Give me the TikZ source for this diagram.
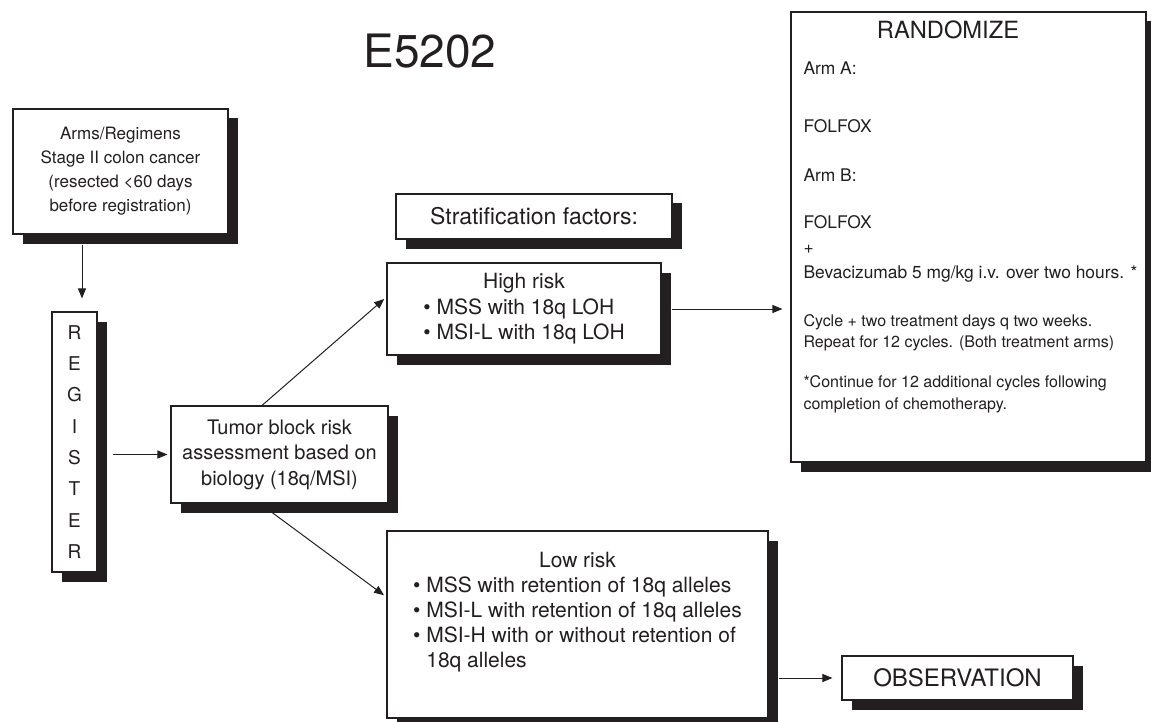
\documentclass[tikz,border=0pt]{standalone}
\usepackage{fontspec}
\setmainfont{TeX Gyre Heros}
\usetikzlibrary{arrows.meta,calc,shadows}
\definecolor{ink}{HTML}{231F20}
\tikzset{
  box/.style={draw=ink,fill=white,line width=1.1pt,inner sep=0pt,align=center,text=ink,
    drop shadow={shadow xshift=9.5pt,shadow yshift=-9.5pt,opacity=1,fill=ink}},
  armtext/.style={anchor=base west,inner sep=0pt,text=ink,font=\fontsize{17.4}{22}\selectfont},
  notetext/.style={anchor=base west,inner sep=0pt,text=ink,font=\fontsize{16}{20}\selectfont}
}

\begin{document}
\begin{tikzpicture}[x=1pt,y=-1pt,>={Triangle[length=10pt,width=8pt]},line width=1pt,color=ink]
  \path[use as bounding box,clip] (0,0) rectangle (1151,722);

  \node[text=ink,font=\fontsize{46}{50}\selectfont] (title) at (430,51) {E5202};
  \node[box,minimum width=215pt,minimum height=125pt,font=\fontsize{17}{24}\selectfont] (arms) at (120.5,171.5)
    {Arms/Regimens\\Stage II colon cancer\\(resected <60 days\\before registration)};
  \node[box,minimum width=45pt,minimum height=260pt,font=\fontsize{19}{31.3}\selectfont] (reg) at (74.5,442)
    {R\\E\\G\\I\\S\\T\\E\\R};
  \node[box,minimum width=217pt,minimum height=97pt,font=\fontsize{20}{25.5}\selectfont] (tumor) at (279.5,454.5)
    {Tumor block risk\\assessment based on\\biology (18q/MSI)};
  \node[box,minimum width=276pt,minimum height=45pt,font=\fontsize{23}{26}\selectfont] (strat) at (534,216.5)
    {Stratification factors:};
  \node[box,minimum width=274pt,minimum height=92pt,font=\fontsize{21}{25.5}\selectfont] (high) at (524,309)
    {\begin{tabular}{@{}l@{}}\multicolumn{1}{@{}c@{}}{High risk}\\
      \textbullet{} MSS with 18q LOH\\ \textbullet{} MSI-L with 18q LOH\end{tabular}};
  \node[box,minimum width=381pt,minimum height=187pt,font=\fontsize{21}{25}\selectfont] (low) at (577.5,624.5)
    {\begin{tabular}{@{}l@{}}\multicolumn{1}{@{}c@{}}{Low risk}\\
      \textbullet{} MSS with retention of 18q alleles\\
      \textbullet{} MSI-L with retention of 18q alleles\\
      \textbullet{} MSI-H with or without retention of\\
      \phantom{\textbullet{} }18q alleles\\[25pt]\end{tabular}};
  \node[box,minimum width=355pt,minimum height=450pt] (rand) at (968.5,237) {};
  \node[text=ink,anchor=base,inner sep=0pt,font=\fontsize{23.7}{28}\selectfont] (randtitle) at (948,39) {RANDOMIZE};
  \foreach \ty/\tx [count=\k] in {75/Arm A:,133/FOLFOX,182/Arm B:,229/FOLFOX,254/+,
      278/{Bevacizumab 5 mg/kg i.v. over two hours. *}}
    \node[armtext] (arm\k) at (803,\ty) {\tx};
  \foreach \ty/\tx [count=\k] in {326/{Cycle + two treatment days q two weeks.},
      347/{Repeat for 12 cycles. (Both treatment arms)},
      387/{*Continue for 12 additional cycles following},409/{completion of chemotherapy.}}
    \node[notetext] (note\k) at (803,\ty) {\tx};
  \node[box,minimum width=231pt,minimum height=44pt,font=\fontsize{24}{28}\selectfont] (obs) at (957.5,678)
    {OBSERVATION};

  \coordinate (drop) at (82,0);
  \draw[->,shorten <=10pt,shorten >=13pt] (arms.south -| drop) -- (reg.north -| drop);
  \draw[->,shorten <=15pt,shorten >=3pt] (reg.east |- tumor.west) -- (tumor.west);
  \draw[->,shorten >=3pt] ([xshift=-17.5pt]tumor.north) -- ([yshift=12pt]high.west);
  \draw[->,shorten >=3pt] ([xshift=-19.5pt]tumor.south) -- ([yshift=27.5pt]low.west);
  \draw[->,shorten <=10pt,shorten >=8pt] (high.east) -- (high.east -| rand.west);
  \draw[->,shorten <=10pt,shorten >=9pt] (low.east |- obs.west) -- (obs.west);
\end{tikzpicture}
\end{document}
